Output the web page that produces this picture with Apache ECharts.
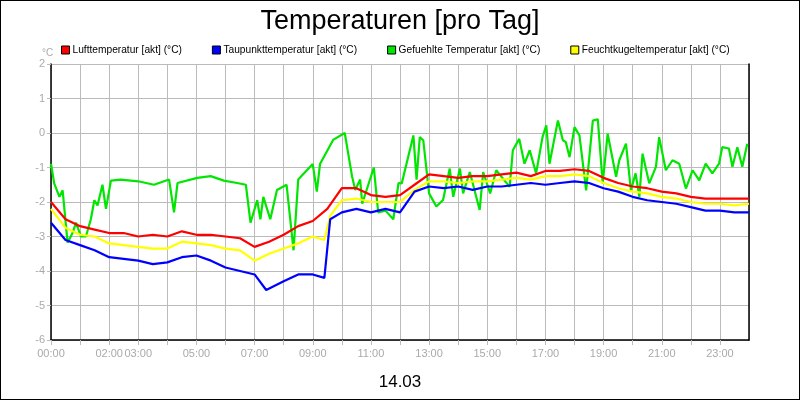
<!DOCTYPE html>
<html><head><meta charset="utf-8">
<script src="https://cdn.jsdelivr.net/npm/echarts@6/dist/echarts.min.js"></script>
<style>html,body{margin:0;padding:0}#c{width:800px;height:400px;box-sizing:border-box;border:1px solid #000}</style>
</head><body><div id="c"></div>
<script>
const seriesNames = ['Lufttemperatur [akt] (°C)','Taupunkttemperatur [akt] (°C)','Gefuehlte Temperatur [akt] (°C)','Feuchtkugeltemperatur [akt] (°C)'];
const colors = ['#ff0000','#0000ff','#00e600','#ffff00'];
const xTickLabels = {0:'00:00',2:'02:00',3:'03:00',5:'05:00',7:'07:00',9:'09:00',11:'11:00',13:'13:00',15:'15:00',17:'17:00',19:'19:00',21:'21:00',23:'23:00'};
const luft = [[0,-2.0],[0.5,-2.5],[1,-2.7],[1.5,-2.8],[2,-2.9],[2.5,-2.9],[3,-3.0],[3.5,-2.95],[4,-3.0],[4.5,-2.85],[5,-2.95],[5.5,-2.95],[6,-3.0],[6.5,-3.05],[7,-3.3],[7.5,-3.15],[8,-2.95],[8.5,-2.7],[9,-2.55],[9.5,-2.2],[10,-1.6],[10.5,-1.6],[11,-1.8],[11.5,-1.85],[12,-1.8],[12.5,-1.5],[13,-1.2],[13.5,-1.25],[14,-1.3],[14.5,-1.25],[15,-1.25],[15.5,-1.2],[16,-1.15],[16.5,-1.25],[17,-1.1],[17.5,-1.1],[18,-1.05],[18.5,-1.1],[19,-1.3],[19.5,-1.45],[20,-1.55],[20.5,-1.6],[21,-1.7],[21.5,-1.75],[22,-1.85],[22.5,-1.9],[23,-1.9],[23.5,-1.9],[24,-1.9]];
const taupunkt = [[0,-2.6],[0.5,-3.1],[1,-3.25],[1.5,-3.4],[2,-3.6],[2.5,-3.65],[3,-3.7],[3.5,-3.8],[4,-3.75],[4.5,-3.6],[5,-3.55],[5.5,-3.7],[6,-3.9],[6.5,-4.0],[7,-4.1],[7.4,-4.55],[8,-4.3],[8.5,-4.1],[9,-4.1],[9.4,-4.2],[9.6,-2.5],[10,-2.3],[10.5,-2.2],[11,-2.3],[11.5,-2.2],[12,-2.3],[12.5,-1.7],[13,-1.55],[13.5,-1.6],[14,-1.55],[14.5,-1.65],[15,-1.55],[15.5,-1.55],[16,-1.5],[16.5,-1.45],[17,-1.5],[17.5,-1.45],[18,-1.4],[18.5,-1.45],[19,-1.6],[19.5,-1.7],[20,-1.85],[20.5,-1.95],[21,-2.0],[21.5,-2.05],[22,-2.15],[22.5,-2.25],[23,-2.25],[23.5,-2.3],[24,-2.3]];
const gefuehlt = [[0,-0.89],[0.11,-1.46],[0.29,-1.85],[0.4,-1.66],[0.57,-3.18],[0.74,-2.9],[0.86,-2.6],[1.03,-3.0],[1.2,-3.0],[1.37,-2.5],[1.49,-1.95],[1.6,-2.1],[1.77,-1.5],[1.89,-2.2],[2.06,-1.38],[2.4,-1.35],[3.0,-1.4],[3.54,-1.5],[4.06,-1.35],[4.23,-2.3],[4.35,-1.45],[5.03,-1.3],[5.49,-1.25],[5.94,-1.38],[6.4,-1.45],[6.7,-1.5],[6.86,-2.6],[7.09,-1.95],[7.2,-2.5],[7.3,-1.85],[7.54,-2.5],[7.77,-1.65],[8.1,-1.5],[8.34,-3.4],[8.5,-1.35],[9.0,-0.9],[9.14,-1.7],[9.25,-0.9],[9.7,-0.2],[10.1,0.0],[10.35,-1.25],[10.46,-1.65],[10.63,-1.35],[10.7,-2.05],[11.1,-1.0],[11.25,-2.3],[11.5,-2.25],[11.77,-2.5],[11.95,-1.45],[12.06,-1.46],[12.46,-0.07],[12.57,-1.35],[12.68,-0.12],[12.8,-0.21],[13.0,-1.75],[13.25,-2.13],[13.48,-1.94],[13.71,-1.03],[13.83,-1.85],[14.06,-1.03],[14.17,-1.75],[14.4,-1.13],[14.74,-2.23],[14.86,-1.13],[15.1,-1.75],[15.31,-1.08],[15.77,-1.56],[15.88,-0.5],[16.1,-0.17],[16.28,-0.89],[16.46,-0.5],[16.68,-1.17],[16.9,-0.12],[17.03,0.22],[17.14,-0.89],[17.43,0.36],[17.6,-0.21],[17.7,-0.26],[17.83,-0.7],[18.0,0.17],[18.17,-0.07],[18.4,-1.66],[18.63,0.36],[18.8,0.4],[18.97,-1.46],[19.14,-0.02],[19.43,-1.27],[19.54,-0.79],[19.77,-0.31],[19.94,-1.66],[20.1,-1.17],[20.23,-1.85],[20.34,-0.6],[20.57,-1.46],[20.8,-0.98],[20.91,-0.12],[21.14,-1.08],[21.37,-0.79],[21.6,-0.89],[21.83,-1.61],[22.06,-1.08],[22.29,-1.37],[22.51,-0.89],[22.74,-1.17],[22.97,-0.89],[23.08,-0.41],[23.31,-0.45],[23.43,-0.98],[23.6,-0.41],[23.77,-0.98],[23.94,-0.31]];
const feucht = [[0,-2.2],[0.5,-2.75],[1,-2.95],[1.5,-3.0],[2,-3.2],[2.5,-3.25],[3,-3.3],[3.5,-3.35],[4,-3.35],[4.5,-3.15],[5,-3.2],[5.5,-3.25],[6,-3.35],[6.5,-3.4],[7,-3.7],[7.5,-3.5],[8,-3.35],[8.5,-3.2],[9,-3.0],[9.4,-3.1],[9.6,-2.4],[10,-1.95],[10.5,-1.9],[11,-2.0],[11.5,-2.0],[12,-2.0],[12.5,-1.65],[13,-1.4],[13.5,-1.4],[14,-1.45],[14.5,-1.4],[15,-1.4],[15.5,-1.35],[16,-1.3],[16.5,-1.35],[17,-1.25],[17.5,-1.25],[18,-1.2],[18.5,-1.25],[19,-1.45],[19.5,-1.6],[20,-1.7],[20.5,-1.75],[21,-1.85],[21.5,-1.9],[22,-2.0],[22.5,-2.05],[23,-2.05],[23.5,-2.1],[24,-2.05]];
const allData = [luft, taupunkt, gefuehlt, feucht];
const order = [2,3,1,0];
const ch = echarts.init(document.getElementById('c'));
ch.setOption({
  animation:false, backgroundColor:'#fff',
  title:[{text:'Temperaturen [pro Tag]',left:'center',top:2,textStyle:{fontFamily:'Liberation Sans',fontSize:27,fontWeight:'normal',color:'#000'}},
         {text:'14.03',left:'center',top:368,textStyle:{fontFamily:'Liberation Sans',fontSize:17,fontWeight:'normal',color:'#000'}},
         {text:'°C',left:36,top:42,textStyle:{fontFamily:'Liberation Sans',fontSize:10,fontWeight:'normal',color:'#aaa'}}],
  legend:{top:39,left:55,itemGap:30,itemWidth:8,itemHeight:8,icon:'rect',
    data:seriesNames.map((n,i)=>({name:n,itemStyle:{color:colors[i],borderColor:'#000',borderWidth:1}})),
    textStyle:{fontFamily:'Liberation Sans',fontSize:10.2,color:'#000',padding:[0,0,0,-2]}},
  grid:{left:50,right:50,top:63,bottom:59},
  xAxis:{type:'value',min:0,max:24,interval:1,
    axisLine:{onZero:false,lineStyle:{color:'#000',width:1.5}},
    axisTick:{show:true,length:5,lineStyle:{color:'#bbb'}},
    axisLabel:{color:'#aaa',fontFamily:'Liberation Sans',fontSize:11,formatter:v=>xTickLabels[v]||'',showMaxLabel:false},
    splitLine:{lineStyle:{color:'#bbb',width:1}}},
  yAxis:[{type:'value',min:-6,max:2,interval:1,
    axisLine:{show:true,onZero:false,lineStyle:{color:'#000',width:1.5}},
    axisTick:{show:true,length:4,lineStyle:{color:'#bbb'}},
    axisLabel:{color:'#aaa',fontFamily:'Liberation Sans',fontSize:11,margin:6},
    splitLine:{lineStyle:{color:'#bbb',width:1}}},
   {type:'value',min:-6,max:2,interval:1,position:'right',axisLine:{show:true,onZero:false,lineStyle:{color:'#000',width:1.5}},axisTick:{show:false},axisLabel:{show:false},splitLine:{show:false}}],
  series:order.map(i=>({name:seriesNames[i],type:'line',data:allData[i],showSymbol:false,
    lineStyle:{color:colors[i],width:2.2},itemStyle:{color:colors[i]}}))
});
</script></body></html>
